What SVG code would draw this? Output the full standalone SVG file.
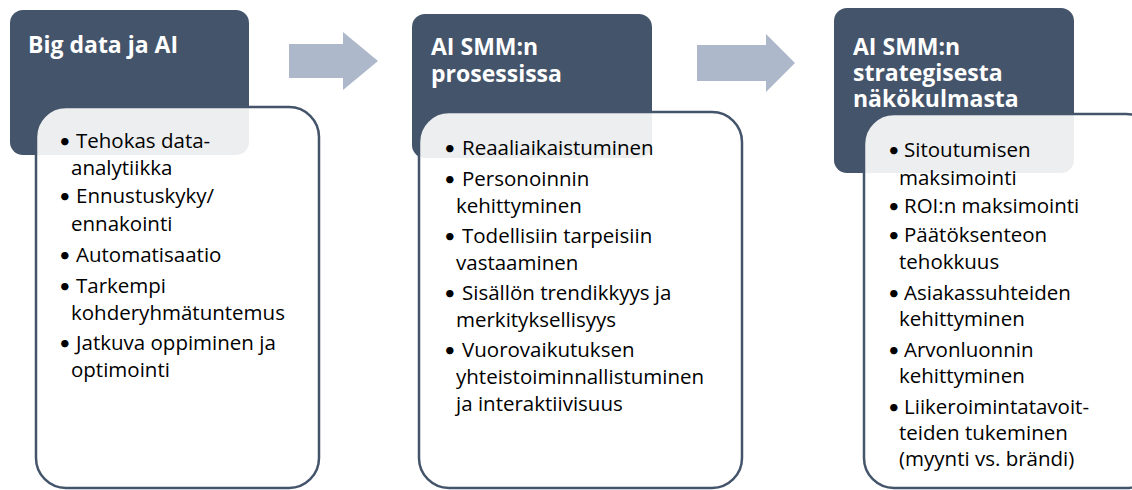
<svg xmlns="http://www.w3.org/2000/svg" width="1132" height="490" viewBox="0 0 1132 490">
<style>
.hdr{fill:#44546a;}
.card{fill:#ffffff;fill-opacity:0.9;stroke:#44546a;stroke-width:2.5;}
.arrow{fill:#adb9ca;}
.title{font-family:"Open Sans",Lato,sans-serif;font-weight:bold;font-size:23px;fill:#ffffff;}
.body{font-family:"Open Sans",Lato,sans-serif;font-size:20.5px;fill:#000000;}
.bul{font-family:Lato,"Open Sans",sans-serif;font-size:20px;}
</style>
<rect width="1132" height="490" fill="#ffffff"/>
<g id="connectors">
<polygon class="arrow" points="289,44 343,44 343,32 378,61 343,90 343,78 289,78"/>
<polygon class="arrow" points="697,45 766,45 766,34 795,63 766,92 766,81 697,81"/>
</g>
<g id="node1">
<rect class="hdr" x="10" y="10" width="239" height="145" rx="13"/>
<text class="title" x="28" y="53">Big data ja AI</text>
<rect class="card" x="36" y="107" width="283" height="381" rx="30"/>
<g class="body">
<text class="bul" x="59" y="148">•</text><text x="76" y="148">Tehokas data-</text>
<text x="71" y="175">analytiikka</text>
<text class="bul" x="59" y="203">•</text><text x="76" y="203">Ennustuskyky/</text>
<text x="71" y="231">ennakointi</text>
<text class="bul" x="59" y="262">•</text><text x="76" y="262">Automatisaatio</text>
<text class="bul" x="59" y="293">•</text><text x="76" y="293">Tarkempi</text>
<text x="71" y="320">kohderyhmätuntemus</text>
<text class="bul" x="59" y="350">•</text><text x="76" y="350">Jatkuva oppiminen ja</text>
<text x="71" y="377">optimointi</text>
</g>
</g>
<g id="node2">
<rect class="hdr" x="412" y="14" width="240" height="144" rx="13"/>
<text class="title" x="431" y="55">AI SMM:n<tspan x="431" y="82">prosessissa</tspan></text>
<rect class="card" x="419" y="112" width="323" height="376" rx="30"/>
<g class="body">
<text class="bul" x="444" y="155">•</text><text x="462" y="155">Reaaliaikaistuminen</text>
<text class="bul" x="444" y="186">•</text><text x="462" y="186">Personoinnin</text>
<text x="456" y="213">kehittyminen</text>
<text class="bul" x="444" y="243">•</text><text x="462" y="243">Todellisiin tarpeisiin</text>
<text x="456" y="270">vastaaminen</text>
<text class="bul" x="444" y="300">•</text><text x="462" y="300">Sisällön trendikkyys ja</text>
<text x="456" y="327">merkityksellisyys</text>
<text class="bul" x="444" y="357">•</text><text x="462" y="357">Vuorovaikutuksen</text>
<text x="456" y="384">yhteistoiminnallistuminen</text>
<text x="456" y="411">ja interaktiivisuus</text>
</g>
</g>
<g id="node3">
<rect class="hdr" x="834" y="8" width="240" height="165" rx="13"/>
<text class="title" x="853" y="55">AI SMM:n<tspan x="853" y="81">strategisesta</tspan><tspan x="853" y="107">näkökulmasta</tspan></text>
<rect class="card" x="864" y="114" width="292" height="374" rx="30"/>
<g class="body">
<text class="bul" x="888" y="157">•</text><text x="904" y="157">Sitoutumisen</text>
<text x="899" y="185">maksimointi</text>
<text class="bul" x="888" y="213">•</text><text x="904" y="213">ROI:n maksimointi</text>
<text class="bul" x="888" y="242">•</text><text x="904" y="242">Päätöksenteon</text>
<text x="899" y="269">tehokkuus</text>
<text class="bul" x="888" y="300">•</text><text x="904" y="300">Asiakassuhteiden</text>
<text x="899" y="326">kehittyminen</text>
<text class="bul" x="888" y="357">•</text><text x="904" y="357">Arvonluonnin</text>
<text x="899" y="383">kehittyminen</text>
<text class="bul" x="888" y="414">•</text><text x="904" y="414">Liikeroimintatavoit-</text>
<text x="899" y="440">teiden tukeminen</text>
<text x="899" y="466">(myynti vs. brändi)</text>
</g>
</g>
</svg>
